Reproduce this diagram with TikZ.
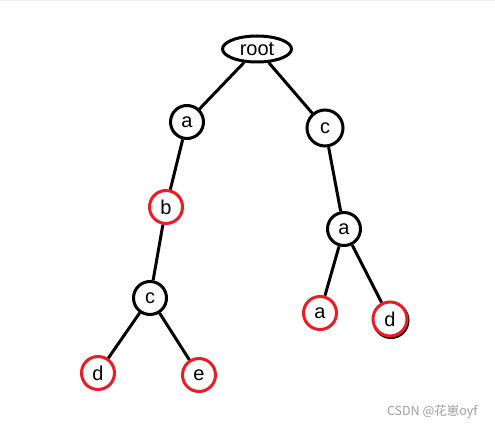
\documentclass[tikz,border=0pt]{standalone}
\usepackage{fontspec}
\setmainfont{Liberation Sans}
\newfontfamily\cjk{Noto Sans CJK SC}
\usepackage{tikz}
\usetikzlibrary{shapes.geometric}
\definecolor{paintred}{RGB}{237,28,36}

\begin{document}
\begin{tikzpicture}[x=1pt,y=-1pt,
        knot/.style={circle,draw,line width=3pt,minimum size=33pt,inner sep=0pt,
            font=\fontsize{20}{24}\selectfont},
        leaf/.style={knot,draw=paintred},
        edge/.style={line width=3pt}]
    \useasboundingbox (0,0) rectangle (495,430);
    \fill[black!6] (0,0) rectangle (495,1.5);
            %root
    \node[ellipse,draw,line width=3pt,minimum width=69pt,minimum height=26pt,inner sep=0pt,
        font=\fontsize{20}{24}\selectfont] (root) at (257,49) {root};
            %left branch
    \node[knot] (a1) at (187,122) {a};
    \node[leaf] (b1) at (166,207) {b};
    \node[knot] (c2) at (150,298) {c};
    \node[leaf] (d2) at (98,373) {d};
    \node[leaf] (e2) at (199,375) {e};
            %right branch
    \node[knot,minimum size=36pt] (c1) at (325,128) {c};
    \node[knot] (a2) at (344,229) {a};
    \node[leaf] (a3) at (320,313) {a};
    \draw[line width=3pt] (391,320.5) circle (17pt);
    \node[leaf,minimum size=34pt,fill=white] (d3) at (390,319) {d};
            %edges
    \foreach \p/\c in {root/a1, a1/b1, b1/c2, c2/d2, c2/e2, root/c1, c1/a2, a2/a3, a2/d3}
    \draw[edge] (\p) -- (\c);
            %watermark
    \node[text=black!38,font=\cjk\fontsize{12.5}{14}\selectfont,anchor=east] (mark) at (481,412) {CSDN @花崽oyf};
\end{tikzpicture}
\end{document}
